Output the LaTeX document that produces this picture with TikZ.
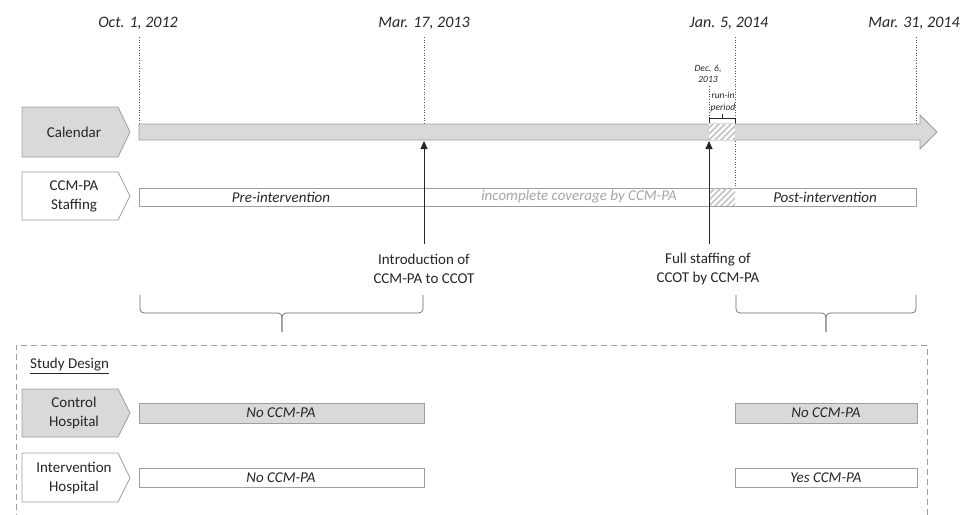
\documentclass[tikz,border=0pt]{standalone}
\usepackage{fontspec}
\setmainfont{Carlito}
\usetikzlibrary{arrows.meta}
\definecolor{barfill}{HTML}{D9D9D9}
\definecolor{barline}{HTML}{9E9E9E}
\definecolor{txt}{HTML}{262626}
\definecolor{lighttxt}{HTML}{A6A6A6}
\definecolor{hatchc}{HTML}{C4C4C4}
\begin{document}
\begin{tikzpicture}[x=1pt,y=-1pt,
  bodytext/.style={font=\fontsize{15}{19}\selectfont, text=txt, inner sep=0pt, align=center},
  bartext/.style={font=\fontsize{15}{19}\selectfont\itshape, text=txt, inner sep=0pt},
  datetxt/.style={font=\fontsize{16}{19}\selectfont\itshape, text=txt, inner sep=0pt},
  smalltxt/.style={font=\fontsize{9.5}{11.5}\selectfont\itshape, text=txt, inner sep=0pt, align=center},
  guide/.style={dotted, draw=txt!80, line width=0.6pt},
  bar/.style={draw=barline, line width=0.8pt},
  hatch/.style={draw=hatchc, line width=1.6pt},
  pointer/.style={draw=txt, line width=0.8pt, -{Triangle[length=8pt,width=7pt]}},
  bracestyle/.style={draw=txt!70, line width=0.7pt, rounded corners=4pt},
  studybox/.style={draw=barline, line width=0.8pt, dash pattern=on 6pt off 4pt}
]
\useasboundingbox (0,0) rectangle (974,514);

% ---- date labels ----
\node[datetxt] (d1) at (138,23) {Oct. 1, 2012};
\node[datetxt] (d2) at (424,23) {Mar. 17, 2013};
\node[datetxt] (d3) at (729,23) {Jan. 5, 2014};
\node[datetxt] (d4) at (914,23) {Mar. 31, 2014};
\node[smalltxt] (d5) at (708,74) {Dec. 6,\\2013};

% ---- guide lines ----
\draw[guide] (139,37) -- (139,124);
\draw[guide] (424,37) -- (424,124);
\draw[guide] (735,37) -- (735,188);
\draw[guide] (916,37) -- (916,124);
\draw[guide] (709,86) -- (709,124);

% ---- calendar row ----
\draw[bar, fill=barfill] (22,107) -- (118,107) -- (130,132) -- (118,157) -- (22,157) -- cycle;
\node[bodytext] (cal) at (74,132) {Calendar};
\draw[bar, fill=barfill] (139,124) -- (920,124) -- (920,115) -- (937,132) -- (920,149) -- (920,140) -- (139,140) -- cycle;
\fill[white] (709,124.4) rectangle (735,139.6);
\begin{scope}
  \clip (709,124.4) rectangle (735,139.6);
  \foreach \i in {0,...,8} \draw[hatch] (696+\i*6,141) -- ++(18,-18);
\end{scope}

% run-in bracket
\node[smalltxt] (runin) at (723,102) {run-in\\period};
\draw[draw=txt, line width=0.6pt] (709,123) -- (709,118) -- (735,118) -- (735,123);
\draw[draw=txt, line width=0.6pt] (722,118) -- (722,114);

% ---- staffing row ----
\draw[bar, fill=white] (22,172) -- (118,172) -- (130,196) -- (118,220) -- (22,220) -- cycle;
\node[bodytext] (staff) at (74,196) {CCM-PA\\Staffing};
\draw[bar, fill=white] (139,188) rectangle (916,206);
\begin{scope}
  \clip (709,188.4) rectangle (735,205.6);
  \foreach \i in {0,...,8} \draw[hatch] (696+\i*6,207) -- ++(20,-20);
\end{scope}
\node[bartext] (pre) at (281,197) {Pre-intervention};
\node[bartext, text=lighttxt] (inc) at (579,197) {incomplete coverage by CCM-PA};
\node[bartext] (post) at (825,197) {Post-intervention};

% ---- events ----
\node[bodytext] (intro) at (424,269) {Introduction of\\CCM-PA to CCOT};
\node[bodytext] (full) at (708,269) {Full staffing of\\CCOT by CCM-PA};
\coordinate (introtop) at (424,244);
\coordinate (fulltop) at (709,244);
\coordinate (introtip) at (424,141);
\coordinate (fulltip) at (709,141);
\draw[pointer] (introtop) -- (introtip);
\draw[pointer] (fulltop) -- (fulltip);

% ---- braces ----
\draw[bracestyle] (140,295) |- (282,313) -- (282,332);
\draw[bracestyle] (423,295) |- (282,313) -- (282,332);
\draw[bracestyle] (736,295) |- (826,313) -- (826,332);
\draw[bracestyle] (916,295) |- (826,313) -- (826,332);

% ---- study design ----
\draw[studybox] (16,530) -- (16,345) -- (927,345) -- (927,530);
\node[bodytext, anchor=west] (sd) at (30,366) {\underline{Study Design}};

\draw[bar, fill=barfill] (22,389) -- (118,389) -- (130,413) -- (118,437) -- (22,437) -- cycle;
\node[bodytext] (ctrl) at (74,413) {Control\\Hospital};
\draw[bar, fill=barfill] (139,403) rectangle (424,423);
\draw[bar, fill=barfill] (735,403) rectangle (917,423);
\node[bartext] (c1) at (281,413) {No CCM-PA};
\node[bartext] (c2) at (826,413) {No CCM-PA};

\draw[bar, fill=white] (22,453) -- (118,453) -- (130,478) -- (118,502) -- (22,502) -- cycle;
\node[bodytext] (intv) at (74,478) {Intervention\\Hospital};
\draw[bar, fill=white] (139,468) rectangle (424,487);
\draw[bar, fill=white] (735,468) rectangle (917,487);
\node[bartext] (i1) at (281,478) {No CCM-PA};
\node[bartext] (i2) at (826,478) {Yes CCM-PA};
\end{tikzpicture}
\end{document}
